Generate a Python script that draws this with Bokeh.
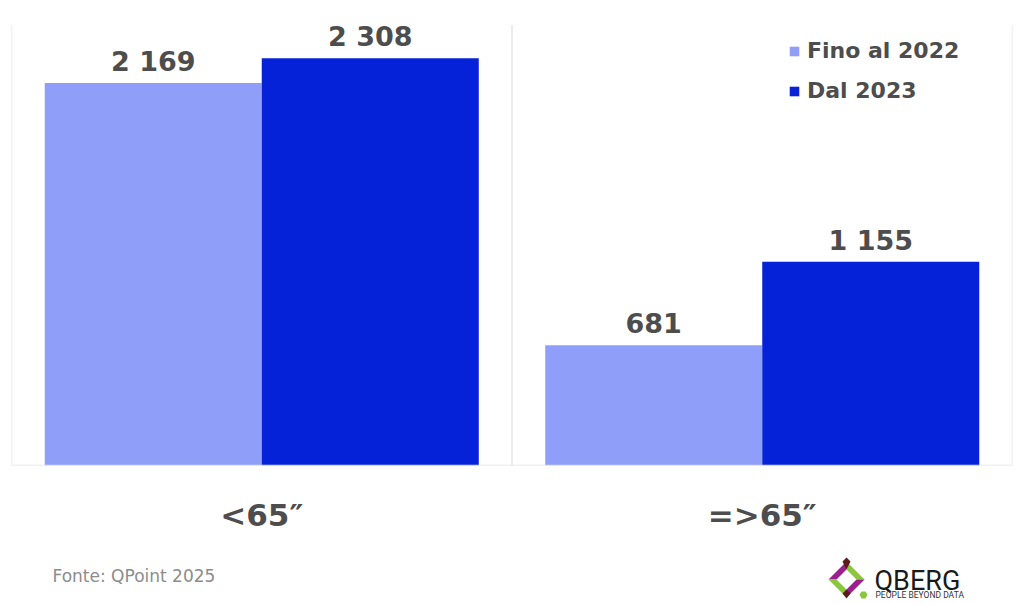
from bokeh.plotting import figure
from bokeh.layouts import column
from bokeh.models import (FactorRange, Range1d, ColumnDataSource, LabelSet, Label,
                          Span, Legend, LegendItem, PolyAnnotation)
from bokeh.transform import dodge
from bokeh.core.properties import value
from bokeh.embed import file_html
from bokeh.resources import INLINE

# ---- data ----
categories = ["<65″", "=>65″"]
series = ["Fino al 2022", "Dal 2023"]
fino_al_2022 = [2169, 681]
dal_2023 = [2308, 1155]
colors = ["#8f9ef9", "#0522d9"]
source_note = "Fonte: QPoint 2025"


def fmt(v):
    return f"{v:,}".replace(",", " ")


src = ColumnDataSource(dict(
    cat=categories,
    a=fino_al_2022,
    b=dal_2023,
    la=[fmt(v) for v in fino_al_2022],
    lb=[fmt(v) for v in dal_2023],
))

FONT = "DejaVu Sans"
GRAY = "#4d4d4d"

p = figure(width=1024, height=550,
           x_range=FactorRange(*categories, range_padding=0),
           y_range=Range1d(0, 2500),
           y_axis_location=None,
           output_backend="svg", toolbar_location=None,
           min_border_left=11, min_border_right=12,
           min_border_top=24, min_border_bottom=85)
p.background_fill_color = "white"
p.border_fill_color = "white"
p.outline_line_color = None
p.xgrid.grid_line_color = None
p.ygrid.grid_line_color = None

BW = 0.4336
r1 = p.vbar(x=dodge("cat", -BW / 2, range=p.x_range), top="a", width=BW,
            source=src, fill_color=colors[0], line_color=None)
r2 = p.vbar(x=dodge("cat", BW / 2, range=p.x_range), top="b", width=BW,
            source=src, fill_color=colors[1], line_color=None)

for loc in [0, 1, 2]:
    p.add_layout(Span(location=loc, dimension="height", line_color="#e6e6e6", line_width=1.5))
p.add_layout(Span(location=0, dimension="width", line_color="#e2e2e2", line_width=1.5))

for xf, yf, tf in [(dodge("cat", -BW / 2, range=p.x_range), "a", "la"),
                   (dodge("cat", BW / 2, range=p.x_range), "b", "lb")]:
    p.add_layout(LabelSet(x=xf, y=yf, text=tf, source=src, y_offset=12,
                          text_align="center", text_baseline="alphabetic",
                          text_font=value(FONT), text_font_style="bold",
                          text_font_size="27px", text_color=GRAY))

ax = p.xaxis[0]
ax.axis_line_color = None
ax.major_tick_line_color = None
ax.minor_tick_line_color = None
ax.major_tick_in = 0
ax.major_tick_out = 0
ax.major_label_standoff = 31
ax.major_label_text_font = FONT
ax.major_label_text_font_style = "bold"
ax.major_label_text_font_size = "31px"
ax.major_label_text_color = GRAY

legend = Legend(items=[LegendItem(label=series[0], renderers=[r1]),
                       LegendItem(label=series[1], renderers=[r2])],
                location=(777, 362), padding=0, margin=0, spacing=15,
                glyph_width=12, glyph_height=12, label_standoff=7,
                label_text_font=FONT, label_text_font_style="bold",
                label_text_font_size="22px", label_text_color=GRAY,
                border_line_color=None, background_fill_alpha=0)
p.add_layout(legend)

# ---- footer (source note + logo) ----
FH = 54
f = figure(width=1024, height=FH, x_range=Range1d(0, 1024), y_range=Range1d(0, FH),
           x_axis_location=None, y_axis_location=None,
           output_backend="svg", toolbar_location=None,
           min_border_left=0, min_border_right=0, min_border_top=0, min_border_bottom=0)
f.outline_line_color = None
f.xgrid.grid_line_color = None
f.ygrid.grid_line_color = None
f.background_fill_color = "white"
f.border_fill_color = "white"


def sc_text(X, Y):
    return X - 12, 604 - Y + 6


def sc_poly(X, Y):
    return X - 12, 604 - Y


sx, sy = sc_text(53, 581)
f.add_layout(Label(x=sx, y=sy, x_units="screen", y_units="screen", text=source_note,
                   text_font=FONT, text_font_size="17px", text_color="#8c8c8c",
                   text_baseline="alphabetic"))


def poly(pts, color):
    xs, ys = zip(*[sc_poly(X, Y) for X, Y in pts])
    f.add_layout(PolyAnnotation(xs=list(xs), ys=list(ys), xs_units="screen", ys_units="screen",
                                fill_color=color, fill_alpha=1, line_color=None))


L, T, R, B = (829, 579), (847, 561), (865, 579), (847, 597)
Li, Ti, Ri, Bi = (837, 579), (847, 569), (857, 579), (847, 589)
poly([L, T, Ti, Li], "#9b1f8c")
poly([T, R, Ri, Ti], "#8cc63f")
poly([R, B, Bi, Ri], "#9b1f8c")
poly([B, L, Li, Bi], "#8cc63f")
poly([(843, 561), (847, 557), (851, 561), (847, 569)], "#5a1a1a")
poly([(843, 593), (847, 589), (851, 593), (847, 598)], "#5a1a1a")
poly([(860, 594), (862, 591), (866, 591), (868, 594), (866, 598), (862, 598)], "#8cc63f")

qx, qy = sc_text(875, 586)
f.add_layout(Label(x=qx, y=qy, x_units="screen", y_units="screen", text="QBERG",
                   text_font="Roboto", text_font_size="27px", text_color="#1a1a1a",
                   text_baseline="alphabetic"))
qx, qy = sc_text(876, 600)
f.add_layout(Label(x=qx, y=qy, x_units="screen", y_units="screen", text="PEOPLE BEYOND DATA",
                   text_font="Roboto", text_font_size="8.5px", text_color="#333333",
                   text_baseline="alphabetic"))

page = column(p, f, spacing=0)
open("out.html", "w").write(file_html(page, INLINE))
